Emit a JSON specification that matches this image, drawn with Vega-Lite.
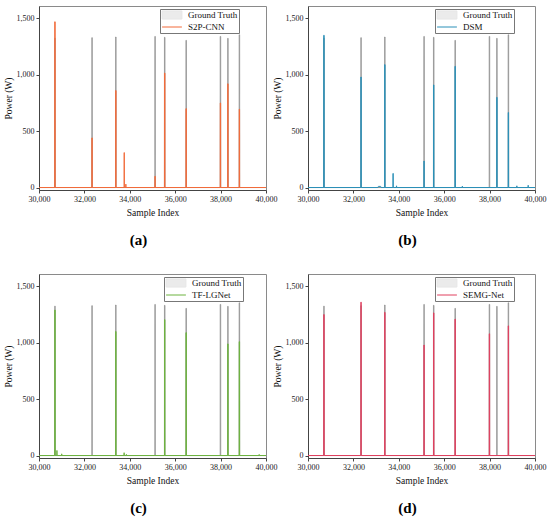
{
  "$schema": "https://vega.github.io/schema/vega-lite/v6.json",
  "padding": {"left": 2, "top": 5, "right": 2, "bottom": 5},
  "background": "white",
  "config": {
    "font": "Liberation Serif",
    "view": {"stroke": "#8a8a8a", "strokeWidth": 1},
    "axis": {
      "labelFont": "Liberation Serif", "labelFontSize": 8, "labelColor": "#222",
      "titleFont": "Liberation Serif", "titleFontSize": 9.5, "titleFontWeight": "normal", "titleColor": "#111",
      "grid": false, "domainColor": "#444", "tickColor": "#444", "tickSize": 3, "labelPadding": 2
    },
    "axisX": {"labelFlush": false, "labelOverlap": false, "titlePadding": 4},
    "axisY": {"titlePadding": 3, "labelOverlap": false},
    "legend": {
      "labelFont": "Liberation Serif", "labelFontSize": 9, "labelColor": "#111",
      "strokeColor": "#777", "fillColor": "white", "padding": 1, "rowPadding": 0,
      "labelOffset": 11, "symbolOffset": 6, "symbolSize": 81, "symbolStrokeWidth": 1
    },
    "title": {"font": "Liberation Serif", "fontSize": 15, "fontWeight": "bold", "orient": "bottom", "anchor": "middle", "frame": "group", "offset": 16, "dx": -14, "color": "#000"}
  },
  "datasets": {
    "gt": [
      {"x":30000,"y":0},
      {"x":30691,"y":0},{"x":30692,"y":1325},{"x":30715,"y":1325},{"x":30716,"y":0},
      {"x":32325,"y":0},{"x":32326,"y":1329},{"x":32349,"y":1329},{"x":32350,"y":0},
      {"x":33373,"y":0},{"x":33374,"y":1335},{"x":33397,"y":1335},{"x":33398,"y":0},
      {"x":35101,"y":0},{"x":35102,"y":1340},{"x":35125,"y":1340},{"x":35126,"y":0},
      {"x":35526,"y":0},{"x":35527,"y":1332},{"x":35550,"y":1332},{"x":35551,"y":0},
      {"x":36471,"y":0},{"x":36472,"y":1305},{"x":36495,"y":1305},{"x":36496,"y":0},
      {"x":37981,"y":0},{"x":37982,"y":1340},{"x":38005,"y":1340},{"x":38006,"y":0},
      {"x":38310,"y":0},{"x":38311,"y":1323},{"x":38334,"y":1323},{"x":38335,"y":0},
      {"x":38816,"y":0},{"x":38817,"y":1355},{"x":38840,"y":1355},{"x":38841,"y":0},
      {"x":40000,"y":0}
    ],
    "a": [
      {"x":30000,"y":0},
      {"x":30691,"y":0},{"x":30693,"y":1470},{"x":30713,"y":1470},{"x":30715,"y":0},
      {"x":32327,"y":0},{"x":32329,"y":440},{"x":32345,"y":440},{"x":32347,"y":0},
      {"x":33375,"y":0},{"x":33377,"y":860},{"x":33393,"y":860},{"x":33395,"y":0},
      {"x":33748,"y":0},{"x":33752,"y":310},{"x":33758,"y":310},{"x":33762,"y":0},
      {"x":33820,"y":0},{"x":33826,"y":30},{"x":33832,"y":0},
      {"x":35105,"y":0},{"x":35107,"y":100},{"x":35119,"y":100},{"x":35121,"y":0},
      {"x":35526,"y":0},{"x":35528,"y":1015},{"x":35548,"y":1015},{"x":35550,"y":0},
      {"x":36473,"y":0},{"x":36475,"y":700},{"x":36491,"y":700},{"x":36493,"y":0},
      {"x":37983,"y":0},{"x":37985,"y":750},{"x":38001,"y":750},{"x":38003,"y":0},
      {"x":38312,"y":0},{"x":38314,"y":920},{"x":38330,"y":920},{"x":38332,"y":0},
      {"x":38818,"y":0},{"x":38820,"y":695},{"x":38836,"y":695},{"x":38838,"y":0},
      {"x":40000,"y":0}
    ],
    "b": [
      {"x":30000,"y":0},
      {"x":30691,"y":0},{"x":30693,"y":1350},{"x":30713,"y":1350},{"x":30715,"y":0},
      {"x":32327,"y":0},{"x":32329,"y":980},{"x":32345,"y":980},{"x":32347,"y":0},
      {"x":33080,"y":0},{"x":33100,"y":10},{"x":33200,"y":10},{"x":33220,"y":0},
      {"x":33375,"y":0},{"x":33377,"y":1090},{"x":33393,"y":1090},{"x":33395,"y":0},
      {"x":33740,"y":0},{"x":33744,"y":125},{"x":33754,"y":125},{"x":33758,"y":0},
      {"x":33890,"y":0},{"x":33900,"y":15},{"x":33910,"y":0},
      {"x":35105,"y":0},{"x":35107,"y":235},{"x":35119,"y":235},{"x":35121,"y":0},
      {"x":35528,"y":0},{"x":35530,"y":910},{"x":35546,"y":910},{"x":35548,"y":0},
      {"x":36473,"y":0},{"x":36475,"y":1075},{"x":36491,"y":1075},{"x":36493,"y":0},
      {"x":36790,"y":0},{"x":36800,"y":12},{"x":36810,"y":0},
      {"x":38312,"y":0},{"x":38314,"y":800},{"x":38330,"y":800},{"x":38332,"y":0},
      {"x":38818,"y":0},{"x":38820,"y":665},{"x":38836,"y":665},{"x":38838,"y":0},
      {"x":39190,"y":0},{"x":39200,"y":15},{"x":39210,"y":0},
      {"x":39690,"y":0},{"x":39700,"y":20},{"x":39710,"y":0},
      {"x":40000,"y":0}
    ],
    "c": [
      {"x":30000,"y":0},
      {"x":30691,"y":0},{"x":30693,"y":1290},{"x":30713,"y":1290},{"x":30715,"y":0},
      {"x":30780,"y":0},{"x":30790,"y":45},{"x":30800,"y":0},
      {"x":30990,"y":0},{"x":31000,"y":15},{"x":31010,"y":0},
      {"x":33375,"y":0},{"x":33377,"y":1100},{"x":33393,"y":1100},{"x":33395,"y":0},
      {"x":33740,"y":0},{"x":33750,"y":25},{"x":33760,"y":0},
      {"x":33840,"y":0},{"x":33850,"y":10},{"x":33860,"y":0},
      {"x":35528,"y":0},{"x":35530,"y":1205},{"x":35546,"y":1205},{"x":35548,"y":0},
      {"x":36473,"y":0},{"x":36475,"y":1090},{"x":36491,"y":1090},{"x":36493,"y":0},
      {"x":38312,"y":0},{"x":38314,"y":990},{"x":38330,"y":990},{"x":38332,"y":0},
      {"x":38818,"y":0},{"x":38820,"y":1010},{"x":38836,"y":1010},{"x":38838,"y":0},
      {"x":39690,"y":0},{"x":39700,"y":10},{"x":39710,"y":0},
      {"x":40000,"y":0}
    ],
    "d": [
      {"x":30000,"y":0},
      {"x":30691,"y":0},{"x":30693,"y":1250},{"x":30713,"y":1250},{"x":30715,"y":0},
      {"x":32327,"y":0},{"x":32329,"y":1360},{"x":32345,"y":1360},{"x":32347,"y":0},
      {"x":33375,"y":0},{"x":33377,"y":1270},{"x":33393,"y":1270},{"x":33395,"y":0},
      {"x":35105,"y":0},{"x":35107,"y":980},{"x":35119,"y":980},{"x":35121,"y":0},
      {"x":35528,"y":0},{"x":35530,"y":1265},{"x":35546,"y":1265},{"x":35548,"y":0},
      {"x":36473,"y":0},{"x":36475,"y":1210},{"x":36491,"y":1210},{"x":36493,"y":0},
      {"x":37983,"y":0},{"x":37985,"y":1080},{"x":38001,"y":1080},{"x":38003,"y":0},
      {"x":38818,"y":0},{"x":38820,"y":1150},{"x":38836,"y":1150},{"x":38838,"y":0},
      {"x":40000,"y":0}
    ]
  },
  "spacing": 25,
  "resolve": {"scale": {"color": "independent"}, "legend": {"color": "independent"}},
  "vconcat": [
    {
      "bounds": "flush",
      "spacing": 42,
      "resolve": {"scale": {"color": "independent"}, "legend": {"color": "independent"}},
      "hconcat": [
        {
          "width": 227, "height": 184,
          "title": {"text": "(a)"},
          "encoding": {
            "x": {"field": "x", "type": "quantitative", "scale": {"domain": [30000, 40000], "nice": false}, "axis": {"title": "Sample Index", "values": [30000, 32000, 34000, 36000, 38000, 40000], "format": ",.0f"}},
            "y": {"field": "y", "type": "quantitative", "scale": {"domain": [-22, 1610], "nice": false, "zero": false}, "axis": {"title": "Power (W)", "values": [0, 500, 1000, 1500], "format": ",.0f"}}
          },
          "layer": [
            {"data": {"name": "gt"}, "mark": {"type": "area", "fill": "#e6e6e6", "stroke": "#858585", "strokeWidth": 0.7, "clip": true}},
            {"data": {"name": "a"}, "mark": {"type": "line", "strokeWidth": 1, "clip": true},
             "encoding": {"color": {"datum": "S2P-CNN", "type": "nominal", "scale": {"domain": ["Ground Truth", "S2P-CNN"], "range": ["#e6e6e6", "#F26B3A"]},
               "legend": {"title": null, "orient": "none", "legendX": 121, "legendY": 3,
                 "encode": {"symbols": {"update": {
                   "shape": {"signal": "datum.value === 'Ground Truth' ? 'M-2.2,-0.9H2.2V0.9H-2.2Z' : 'M-2.2,0H2.2'"},
                   "fill": {"signal": "datum.value === 'Ground Truth' ? '#ebebeb' : 'transparent'"},
                   "stroke": {"signal": "datum.value === 'Ground Truth' ? '#666666' : '#F26B3A'"},
                   "strokeWidth": {"value": 1}, "size": {"value": 81}, "opacity": {"value": 1}}}}}}}}
          ]
        },
        {
          "width": 227, "height": 184,
          "title": {"text": "(b)"},
          "encoding": {
            "x": {"field": "x", "type": "quantitative", "scale": {"domain": [30000, 40000], "nice": false}, "axis": {"title": "Sample Index", "values": [30000, 32000, 34000, 36000, 38000, 40000], "format": ",.0f"}},
            "y": {"field": "y", "type": "quantitative", "scale": {"domain": [-22, 1610], "nice": false, "zero": false}, "axis": {"title": "Power (W)", "values": [0, 500, 1000, 1500], "format": ",.0f"}}
          },
          "layer": [
            {"data": {"name": "gt"}, "mark": {"type": "area", "fill": "#e6e6e6", "stroke": "#858585", "strokeWidth": 0.7, "clip": true}},
            {"data": {"name": "b"}, "mark": {"type": "line", "strokeWidth": 1, "clip": true},
             "encoding": {"color": {"datum": "DSM", "type": "nominal", "scale": {"domain": ["Ground Truth", "DSM"], "range": ["#e6e6e6", "#2A90B8"]},
               "legend": {"title": null, "orient": "none", "legendX": 127, "legendY": 3,
                 "encode": {"symbols": {"update": {
                   "shape": {"signal": "datum.value === 'Ground Truth' ? 'M-2.2,-0.9H2.2V0.9H-2.2Z' : 'M-2.2,0H2.2'"},
                   "fill": {"signal": "datum.value === 'Ground Truth' ? '#ebebeb' : 'transparent'"},
                   "stroke": {"signal": "datum.value === 'Ground Truth' ? '#666666' : '#2A90B8'"},
                   "strokeWidth": {"value": 1}, "size": {"value": 81}, "opacity": {"value": 1}}}}}}}}
          ]
        }
      ]
    },
    {
      "bounds": "flush",
      "spacing": 42,
      "resolve": {"scale": {"color": "independent"}, "legend": {"color": "independent"}},
      "hconcat": [
        {
          "width": 227, "height": 184,
          "title": {"text": "(c)"},
          "encoding": {
            "x": {"field": "x", "type": "quantitative", "scale": {"domain": [30000, 40000], "nice": false}, "axis": {"title": "Sample Index", "values": [30000, 32000, 34000, 36000, 38000, 40000], "format": ",.0f"}},
            "y": {"field": "y", "type": "quantitative", "scale": {"domain": [-22, 1610], "nice": false, "zero": false}, "axis": {"title": "Power (W)", "values": [0, 500, 1000, 1500], "format": ",.0f"}}
          },
          "layer": [
            {"data": {"name": "gt"}, "mark": {"type": "area", "fill": "#e6e6e6", "stroke": "#858585", "strokeWidth": 0.7, "clip": true}},
            {"data": {"name": "c"}, "mark": {"type": "line", "strokeWidth": 1, "clip": true},
             "encoding": {"color": {"datum": "TF-LGNet", "type": "nominal", "scale": {"domain": ["Ground Truth", "TF-LGNet"], "range": ["#e6e6e6", "#6DB33F"]},
               "legend": {"title": null, "orient": "none", "legendX": 125, "legendY": 3,
                 "encode": {"symbols": {"update": {
                   "shape": {"signal": "datum.value === 'Ground Truth' ? 'M-2.2,-0.9H2.2V0.9H-2.2Z' : 'M-2.2,0H2.2'"},
                   "fill": {"signal": "datum.value === 'Ground Truth' ? '#ebebeb' : 'transparent'"},
                   "stroke": {"signal": "datum.value === 'Ground Truth' ? '#666666' : '#6DB33F'"},
                   "strokeWidth": {"value": 1}, "size": {"value": 81}, "opacity": {"value": 1}}}}}}}}
          ]
        },
        {
          "width": 227, "height": 184,
          "title": {"text": "(d)"},
          "encoding": {
            "x": {"field": "x", "type": "quantitative", "scale": {"domain": [30000, 40000], "nice": false}, "axis": {"title": "Sample Index", "values": [30000, 32000, 34000, 36000, 38000, 40000], "format": ",.0f"}},
            "y": {"field": "y", "type": "quantitative", "scale": {"domain": [-22, 1610], "nice": false, "zero": false}, "axis": {"title": "Power (W)", "values": [0, 500, 1000, 1500], "format": ",.0f"}}
          },
          "layer": [
            {"data": {"name": "gt"}, "mark": {"type": "area", "fill": "#e6e6e6", "stroke": "#858585", "strokeWidth": 0.7, "clip": true}},
            {"data": {"name": "d"}, "mark": {"type": "line", "strokeWidth": 1, "clip": true},
             "encoding": {"color": {"datum": "SEMG-Net", "type": "nominal", "scale": {"domain": ["Ground Truth", "SEMG-Net"], "range": ["#e6e6e6", "#E0405F"]},
               "legend": {"title": null, "orient": "none", "legendX": 127, "legendY": 3,
                 "encode": {"symbols": {"update": {
                   "shape": {"signal": "datum.value === 'Ground Truth' ? 'M-2.2,-0.9H2.2V0.9H-2.2Z' : 'M-2.2,0H2.2'"},
                   "fill": {"signal": "datum.value === 'Ground Truth' ? '#ebebeb' : 'transparent'"},
                   "stroke": {"signal": "datum.value === 'Ground Truth' ? '#666666' : '#E0405F'"},
                   "strokeWidth": {"value": 1}, "size": {"value": 81}, "opacity": {"value": 1}}}}}}}}
          ]
        }
      ]
    }
  ]
}
